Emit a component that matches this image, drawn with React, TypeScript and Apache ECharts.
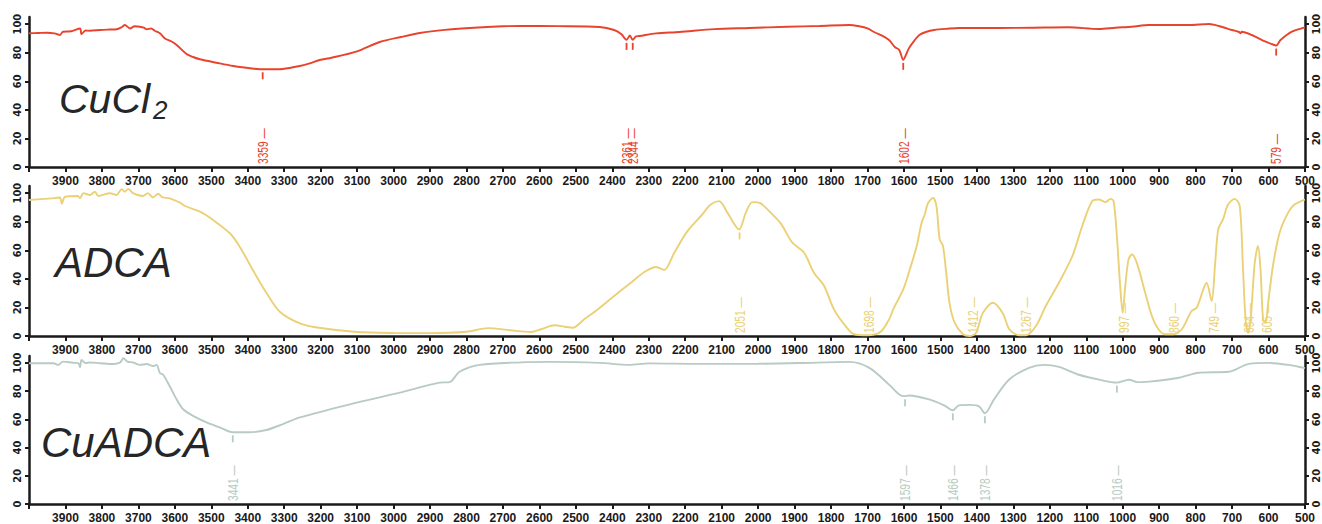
import React, { useEffect, useRef } from "react";
import * as echarts from "echarts";

// ---------- DATA ----------
const CUCL2_SPECTRUM: [number, number][] = [
  [4000, 93.6], [3975, 93.8], [3951, 94], [3930, 93.5], [3915, 92.4], [3907, 94.7], [3885, 95],
  [3860, 97], [3856, 93], [3845, 95.5], [3833, 95.4], [3805, 95.9], [3780, 96.2], [3760, 96.4],
  [3745, 98], [3737, 99.4], [3723, 97], [3710, 98.5], [3696, 98.2], [3685, 97.5], [3677, 96.4],
  [3665, 97], [3655, 95.4], [3641, 93.6], [3627, 90], [3610, 88], [3595, 85.4], [3568, 79.1],
  [3550, 77], [3531, 75.4], [3486, 73], [3440, 70.7], [3394, 69.1], [3367, 68.4], [3330, 68.4],
  [3304, 68.6], [3257, 70.7], [3230, 72.5], [3203, 74.9], [3170, 76.5], [3100, 81], [3038, 87.5],
  [2980, 91], [2928, 93.8], [2860, 96], [2791, 97.3], [2700, 98.5], [2654, 98.7], [2550, 98.6],
  [2435, 98], [2395, 95.9], [2375, 93], [2361, 89], [2352, 92], [2344, 89], [2335, 91.5],
  [2326, 91.7], [2280, 93.5], [2216, 94.5], [2120, 96.5], [2024, 97.3], [1920, 98.2], [1832, 98.7],
  [1750, 99.4], [1723, 98.5], [1700, 97], [1682, 94.5], [1660, 92], [1641, 88.9], [1625, 84],
  [1613, 81.9], [1602, 75], [1592, 80], [1586, 83.3], [1570, 89], [1558, 92.4], [1540, 94.5],
  [1517, 95.9], [1480, 96.8], [1449, 97.3], [1339, 97.3], [1250, 97.5], [1150, 97.8], [1065, 96.6],
  [1020, 97.5], [975, 98.2], [928, 99.4], [818, 99.4], [763, 100.1], [736, 98.7], [700, 95.9],
  [681, 94.5], [677, 93.6], [673, 94.7], [646, 92.4], [608, 87.7], [584, 85.4], [579, 85],
  [567, 88.9], [536, 94.7], [503, 97.5], [500, 97.8],
];

const ADCA_SPECTRUM: [number, number][] = [
  [4000, 95.2], [3960, 96], [3930, 96.5], [3915, 97], [3910, 92.6], [3901, 97.5], [3866, 98],
  [3860, 96.4], [3851, 100], [3833, 98.7], [3819, 101], [3810, 98], [3778, 99.9], [3760, 98.7],
  [3746, 102.7], [3737, 101], [3728, 103], [3715, 100], [3688, 98], [3674, 100], [3660, 97],
  [3646, 99.6], [3633, 97], [3614, 96.4], [3586, 93.3], [3572, 91], [3531, 87], [3495, 81.2],
  [3449, 71.9], [3422, 62.5], [3386, 46.2], [3348, 29.9], [3312, 17], [3257, 8.9], [3200, 5.6],
  [3100, 2.8], [3000, 2.1], [2900, 2], [2800, 3], [2740, 5.5], [2680, 4], [2623, 2.8],
  [2595, 4.7], [2559, 7.5], [2531, 6.5], [2509, 5.8], [2477, 11.7], [2440, 18.6], [2395, 28],
  [2349, 37.3], [2312, 44.8], [2280, 48.3], [2258, 46.2], [2230, 58.3], [2194, 73.4], [2157, 84],
  [2130, 92], [2107, 94.4], [2084, 86.2], [2052, 74.6], [2034, 86.2], [2016, 93.7], [1993, 92.8],
  [1965, 86.2], [1938, 78.8], [1906, 65.3], [1874, 58.3], [1847, 44.3], [1819, 35], [1792, 18.6],
  [1764, 8.2], [1737, 1.2], [1700, 0.5], [1664, 3], [1640, 12], [1629, 19], [1602, 32.6],
  [1584, 46.6], [1565, 63], [1552, 79], [1543, 85], [1534, 93], [1520, 96.7], [1511, 91],
  [1502, 67.6], [1493, 63], [1484, 44], [1475, 23], [1461, 9.3], [1438, 1.2], [1420, 0],
  [1402, 2.3], [1384, 16], [1356, 23.3], [1329, 16], [1311, 4.7], [1284, 0.5], [1265, 0.5],
  [1238, 7], [1211, 21], [1175, 37.3], [1138, 56], [1111, 77], [1084, 94.4], [1065, 95.6],
  [1047, 93.7], [1034, 96], [1025, 94.4], [1016, 70], [1007, 35], [1000, 16.3], [993, 35],
  [984, 53.6], [975, 57], [961, 51], [938, 30], [920, 14], [902, 4.7], [884, 1.2], [861, 1.2],
  [838, 4.7], [811, 17.5], [797, 19.8], [779, 32.6], [770, 37.3], [756, 24.5], [747, 49],
  [738, 74.6], [725, 81.6], [711, 92], [693, 96], [679, 91], [670, 46.6], [663, 11.7],
  [656, 2.3], [649, 11.7], [638, 51], [629, 63], [622, 46.6], [615, 11.7], [608, 9],
  [602, 21], [588, 49], [570, 72], [547, 86], [529, 92], [506, 95], [500, 95.5],
];

const CUADCA_SPECTRUM: [number, number][] = [
  [4000, 99.9], [3933, 99.9], [3920, 98.7], [3907, 101], [3880, 100.2], [3865, 99.9], [3860, 97.1],
  [3856, 102.2], [3845, 100], [3833, 100.4], [3805, 99.9], [3769, 99.3], [3750, 100.5],
  [3741, 103.4], [3730, 101], [3714, 100.4], [3696, 98.7], [3677, 99.3], [3659, 97.9], [3650, 98.7],
  [3641, 92.9], [3632, 91.7], [3614, 83.5], [3595, 74.2], [3577, 67.2], [3550, 62.5], [3513, 57.9],
  [3477, 54.4], [3441, 50.9], [3394, 50.9], [3349, 52.5], [3303, 56.7], [3257, 61.4], [3120, 70.7],
  [2983, 79], [2874, 86.1], [2846, 86.5], [2819, 93.8], [2764, 98.7], [2650, 100.5], [2572, 100.8],
  [2435, 100.1], [2353, 98.7], [2300, 99.8], [2161, 99.4], [2000, 99.5], [1887, 100], [1750, 100.8],
  [1695, 96.6], [1641, 84.7], [1613, 77.7], [1597, 76.5], [1586, 77], [1531, 74.2], [1490, 70],
  [1466, 66.5], [1449, 70], [1420, 70.3], [1394, 69.3], [1378, 64.4], [1353, 74.2], [1312, 88.2],
  [1257, 96.6], [1216, 98.7], [1175, 97.3], [1120, 91.7], [1065, 88.2], [1016, 86.1], [983, 88.2],
  [960, 86.5], [928, 86.8], [846, 89.6], [791, 93.1], [709, 93.8], [654, 99.4], [600, 100.1],
  [545, 98.7], [503, 96.6], [500, 96.4],
];

// peak wavenumber, %T at the peak
const CUCL2_PEAKS: [number, number][] = [[3359, 68.4], [2361, 89], [2344, 89], [1602, 75], [579, 85]];
const CUCL2_PEAK_LABELS = ["3359", "2361", "2344", "1602", "579"];

const ADCA_PEAKS: [number, number][] = [
  [2051, 74.6], [1698, 0.5], [1412, 0], [1267, 0.5], [997, 16.3], [860, 1.2], [749, 24.5], [654, 2.3], [605, 9],
];
const ADCA_PEAK_LABELS = ["2051", "1698", "1412", "1267", "997", "860", "749", "654", "605"];

const CUADCA_PEAKS: [number, number][] = [[3441, 50.9], [1597, 76.5], [1466, 66.5], [1378, 64.4], [1016, 86.1]];
const CUADCA_PEAK_LABELS = ["3441", "1597", "1466", "1378", "1016"];

const X_MIN = 500;
const X_MAX = 4000;
const X_STEP = 100;
const Y_TICKS = [0, 20, 40, 60, 80, 100];

// ---------- STYLE ----------
const AXIS_COLOR = "#1a1a1a";
const LABEL_COLOR = "#262626";
const AXIS_FONT = '"Liberation Sans", Arial, sans-serif';
const NARROW_FONT = '"Liberation Sans Narrow", "DejaVu Sans Condensed", "Liberation Sans", Arial, sans-serif';

const PANELS = [
  { data: CUCL2_SPECTRUM, peaks: CUCL2_PEAKS, labels: CUCL2_PEAK_LABELS, color: "#e8432d", top: 17 },
  { data: ADCA_SPECTRUM, peaks: ADCA_PEAKS, labels: ADCA_PEAK_LABELS, color: "#ebd176", top: 186 },
  { data: CUADCA_SPECTRUM, peaks: CUADCA_PEAKS, labels: CUADCA_PEAK_LABELS, color: "#b8cbc3", top: 356 },
];

function buildOption() {
  const grid = PANELS.map((p) => ({ left: 29, right: 17, top: p.top, height: 150 }));

  const xAxis = PANELS.map((p, i) => ({
    type: "value",
    gridIndex: i,
    min: X_MIN,
    max: X_MAX,
    interval: X_STEP,
    inverse: true,
    axisLine: { show: true, onZero: false, lineStyle: { color: AXIS_COLOR, width: 2.5 } },
    axisTick: { show: true, length: 5, lineStyle: { color: AXIS_COLOR, width: 2 } },
    axisLabel: {
      margin: 8,
      fontSize: 12,
      fontWeight: "bold",
      fontFamily: AXIS_FONT,
      color: AXIS_COLOR,
      formatter: (v: number) => (v >= X_MAX ? "" : String(v)),
    },
    splitLine: { show: false },
  }));

  const yAxis: any[] = [];
  PANELS.forEach((p, i) => {
    ["left", "right"].forEach((pos) => {
      yAxis.push({
        type: "value",
        gridIndex: i,
        position: pos,
        min: 0,
        max: 105,
        interval: 20,
        axisLine: { show: true, onZero: false, lineStyle: { color: AXIS_COLOR, width: 2.5 } },
        axisTick: { show: true, length: 4, customValues: Y_TICKS, lineStyle: { color: AXIS_COLOR, width: 2 } },
        axisLabel: {
          rotate: 90,
          margin: 6,
          fontSize: 11,
          fontWeight: "bold",
          fontFamily: NARROW_FONT,
          color: AXIS_COLOR,
          customValues: Y_TICKS,
          formatter: (v: number) => (v > 100 ? "" : String(v)),
        },
        splitLine: { show: false },
      });
    });
  });

  const series: any[] = [];
  PANELS.forEach((p, i) => {
    series.push({
      type: "custom",
      xAxisIndex: i,
      yAxisIndex: i * 2,
      clip: false,
      silent: true,
      z: 2,
      data: p.peaks.map((pk, j) => [pk[0], pk[1], j]),
      renderItem: (params: any, api: any) => {
        const w = api.value(0);
        const t = api.value(1);
        const j = api.value(2);
        const base = api.coord([w, 0]);
        const at = api.coord([w, t]);
        const children: any[] = [
          {
            type: "text",
            x: base[0],
            y: base[1] - 3,
            rotation: Math.PI / 2,
            scaleX: 0.68,
            style: {
              text: p.labels[j] + " \u2014",
              fill: p.color,
              font: '15px "Liberation Sans", Arial, sans-serif',
              align: "left",
              verticalAlign: "middle",
              textAlign: "left",
              textVerticalAlign: "middle",
            },
          },
        ];
        if (t > 30) {
          children.push({
            type: "line",
            shape: { x1: at[0], y1: at[1] + 3, x2: at[0], y2: at[1] + 10 },
            style: { stroke: p.color, lineWidth: 1.8 },
          });
        }
        return { type: "group", children };
      },
    });
    series.push({
      type: "line",
      xAxisIndex: i,
      yAxisIndex: i * 2,
      data: p.data,
      showSymbol: false,
      smooth: 0.3,
      silent: true,
      z: 3,
      lineStyle: { color: p.color, width: 1.9 },
    });
  });

  const titleFont = (size: number) => `italic ${size}px "Liberation Sans", Arial, sans-serif`;
  const graphic = [
    { type: "text", x: 59, y: 99, style: { text: "CuCl", font: titleFont(41), fill: LABEL_COLOR, verticalAlign: "middle", textVerticalAlign: "middle" } },
    { type: "text", x: 153, y: 110, style: { text: "2", font: titleFont(26), fill: LABEL_COLOR, verticalAlign: "middle", textVerticalAlign: "middle" } },
    { type: "text", x: 55, y: 262, style: { text: "ADCA", font: titleFont(42), fill: LABEL_COLOR, verticalAlign: "middle", textVerticalAlign: "middle" } },
    { type: "text", x: 41, y: 442, style: { text: "CuADCA", font: titleFont(42), fill: LABEL_COLOR, verticalAlign: "middle", textVerticalAlign: "middle" } },
  ];

  return {
    animation: false,
    backgroundColor: "#ffffff",
    grid,
    xAxis,
    yAxis,
    series,
    graphic,
  };
}

export default function App() {
  const ref = useRef<HTMLDivElement>(null);
  useEffect(() => {
    if (!ref.current) return;
    const chart = echarts.init(ref.current, undefined, { renderer: "svg" });
    chart.setOption(buildOption() as any);
    return () => chart.dispose();
  }, []);
  return (
    <div
      ref={ref}
      style={{ position: "fixed", left: 0, top: 0, width: 1322, height: 524, background: "#fff" }}
    />
  );
}
